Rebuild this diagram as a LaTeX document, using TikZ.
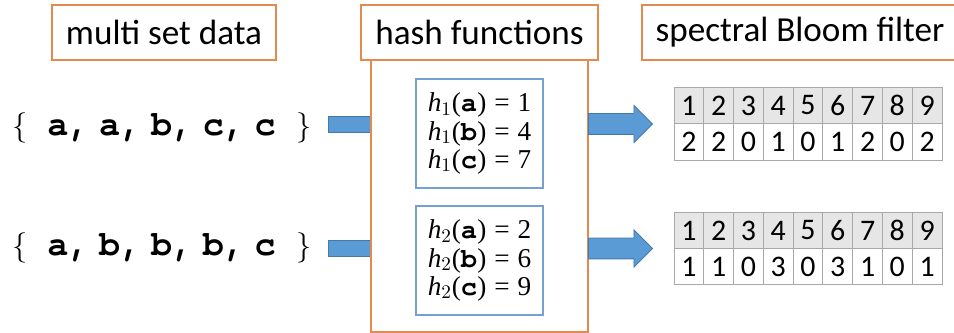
\documentclass[tikz,border=0pt]{standalone}
\usepackage{xcolor}
\usepackage{fontspec}
\setmainfont{Liberation Serif}
\setmonofont{TeX Gyre Cursor}
\newfontfamily\titlefont{Carlito}
\usepackage{tikz}
\usetikzlibrary{shapes.arrows}

\definecolor{boxorange}{RGB}{228,138,78}
\definecolor{boxblue}{RGB}{118,160,210}
\definecolor{arrowblue}{RGB}{91,155,213}
\definecolor{arrowedge}{RGB}{70,120,170}
\definecolor{cellgray}{RGB}{168,168,168}
\definecolor{headgray}{RGB}{231,230,230}

\tikzset{%
  titlebox/.style={draw=boxorange, line width=1pt, rectangle, minimum height=1.1cm, fill=white, font=\titlefont\fontsize{20pt}{24pt}\selectfont},%
  hashbody/.style={draw=boxorange, line width=1pt, rectangle, fill=white},%
  hashbox/.style={draw=boxblue, line width=0.8pt, rectangle, minimum width=2.54cm, minimum height=2.18cm, align=left, font=\fontsize{15.5pt}{16pt}\selectfont},%
  multiset/.style={anchor=west, inner sep=0pt, font=\fontsize{16pt}{20pt}\selectfont},%
  shaft/.style={draw=arrowedge, line width=0.5pt, fill=arrowblue, rectangle, minimum width=0.86cm, minimum height=0.32cm, inner sep=0pt},%
  blockarrow/.style={draw=arrowedge, line width=0.5pt, fill=arrowblue, single arrow, anchor=tail, inner sep=0pt, inner ysep=0.2cm, single arrow head extend=0.16cm, minimum height=1.28cm},%
  headcell/.style={draw=cellgray, line width=0.5pt, rectangle, minimum width=0.596cm, minimum height=0.73cm, inner sep=0pt, fill=headgray, font=\titlefont\fontsize{17pt}{18pt}\selectfont},%
  datacell/.style={headcell, fill=white}%
}

\newcommand{\mono}[1]{{\ttfamily\bfseries\fontsize{20pt}{22pt}\selectfont #1}}
\newcommand{\hashval}[3]{\textit{h}$_{#1}$(\textbf{\texttt{#2}})\hspace{4.5pt}=\hspace{4.5pt}#3}

\begin{document}
\begin{tikzpicture}[x=0.02cm, y=-0.02cm]%
\useasboundingbox (0,0) rectangle (954,333);%
% input multisets
\node[multiset] (set1) at (12, 128) {$\{$\hspace{11.3pt}\mono{a,\hspace{5.5pt}a,\hspace{5.5pt}b,\hspace{5.5pt}c,\hspace{5.5pt}c}\hspace{12pt}$\}$};%
\node[multiset] (set2) at (12, 248) {$\{$\hspace{11.3pt}\mono{a,\hspace{5.5pt}b,\hspace{5.5pt}b,\hspace{5.5pt}b,\hspace{5.5pt}c}\hspace{12pt}$\}$};%
\node[shaft] (in1) at (349.5, 124) {};%
\node[shaft] (in2) at (349.5, 248.5) {};%
% hash functions
\node[hashbody, minimum width=4.34cm, minimum height=5.44cm] (body) at (479.5, 196) {};%
\node[titlebox, minimum width=4.48cm] (settitle) at (164, 32.5) {multi set data};%
\node[titlebox, minimum width=4.74cm] (hashtitle) at (479.5, 32.5) {hash functions};%
\node[titlebox, minimum width=6.32cm] (bloomtitle) at (800, 32.5) {spectral Bloom filter};%
\node[hashbox] (hash1) at (479.5, 133.5) {\hashval{1}{a}{1}\\ \hashval{1}{b}{4}\\ \hashval{1}{c}{7}};%
\node[hashbox] (hash2) at (479.5, 260.5) {\hashval{2}{a}{2}\\ \hashval{2}{b}{6}\\ \hashval{2}{c}{9}};%
\node[blockarrow] (out1) at (588, 124) {};%
\node[blockarrow] (out2) at (588, 248.5) {};%
% first counter array
\node[headcell] (a1) at (688.9, 105.5) {1};%
\node[headcell] (a2) at (718.7, 105.5) {2};%
\node[headcell] (a3) at (748.4, 105.5) {3};%
\node[headcell] (a4) at (778.2, 105.5) {4};%
\node[headcell] (a5) at (808.0, 105.5) {5};%
\node[headcell] (a6) at (837.8, 105.5) {6};%
\node[headcell] (a7) at (867.6, 105.5) {7};%
\node[headcell] (a8) at (897.3, 105.5) {8};%
\node[headcell] (a9) at (927.1, 105.5) {9};%
\node[datacell] (c1) at (688.9, 142) {2};%
\node[datacell] (c2) at (718.7, 142) {2};%
\node[datacell] (c3) at (748.4, 142) {0};%
\node[datacell] (c4) at (778.2, 142) {1};%
\node[datacell] (c5) at (808.0, 142) {0};%
\node[datacell] (c6) at (837.8, 142) {1};%
\node[datacell] (c7) at (867.6, 142) {2};%
\node[datacell] (c8) at (897.3, 142) {0};%
\node[datacell] (c9) at (927.1, 142) {2};%
% second counter array
\node[headcell] (b1) at (688.9, 230.5) {1};%
\node[headcell] (b2) at (718.7, 230.5) {2};%
\node[headcell] (b3) at (748.4, 230.5) {3};%
\node[headcell] (b4) at (778.2, 230.5) {4};%
\node[headcell] (b5) at (808.0, 230.5) {5};%
\node[headcell] (b6) at (837.8, 230.5) {6};%
\node[headcell] (b7) at (867.6, 230.5) {7};%
\node[headcell] (b8) at (897.3, 230.5) {8};%
\node[headcell] (b9) at (927.1, 230.5) {9};%
\node[datacell] (d1) at (688.9, 266.5) {1};%
\node[datacell] (d2) at (718.7, 266.5) {1};%
\node[datacell] (d3) at (748.4, 266.5) {0};%
\node[datacell] (d4) at (778.2, 266.5) {3};%
\node[datacell] (d5) at (808.0, 266.5) {0};%
\node[datacell] (d6) at (837.8, 266.5) {3};%
\node[datacell] (d7) at (867.6, 266.5) {1};%
\node[datacell] (d8) at (897.3, 266.5) {0};%
\node[datacell] (d9) at (927.1, 266.5) {1};%
\end{tikzpicture}
\end{document}
